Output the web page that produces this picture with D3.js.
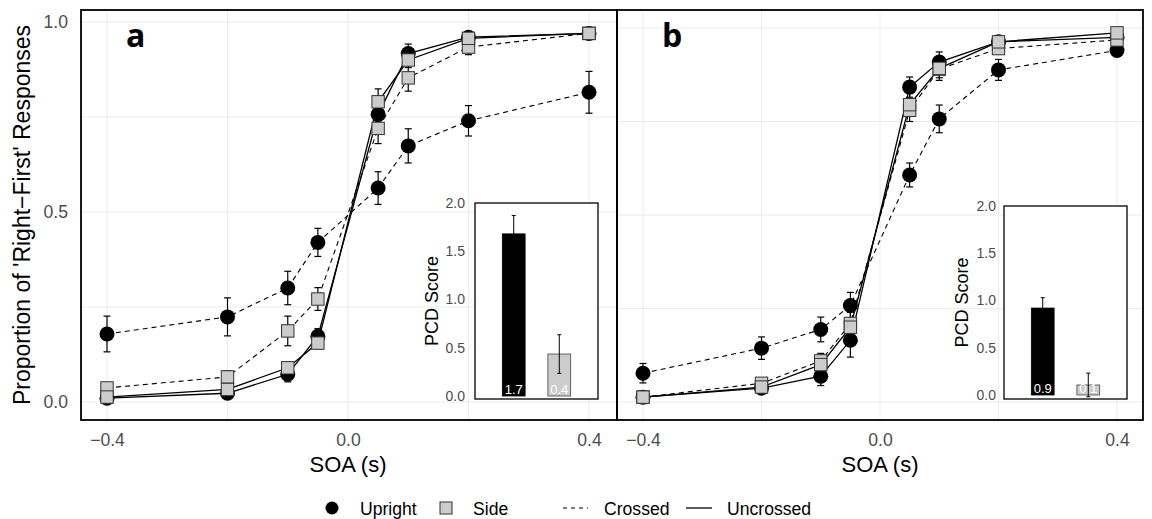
<!DOCTYPE html>
<html><head><meta charset="utf-8">
<script src="https://cdn.jsdelivr.net/npm/d3@7"></script>
<style>
body{margin:0;background:#fff;}
svg{font-family:"Liberation Sans",Arial,sans-serif;}
</style></head>
<body>
<svg id="chart" width="1152" height="519"></svg>
<script>
// ---------- data ----------
const soa = [-0.4, -0.2, -0.1, -0.05, 0.05, 0.1, 0.2, 0.4];
const xTickValues = [-0.4, 0, 0.4];
const xGridValues = [-0.4, -0.2, 0, 0.2, 0.4];
const yTickValues = [0, 0.5, 1];
const yGridValues = [0, 0.25, 0.5, 0.75, 1];

// panel a
const aUprightCrossed     = [0.179, 0.224, 0.300, 0.420, 0.563, 0.674, 0.740, 0.815];
const aUprightCrossedErr  = [0.047, 0.050, 0.044, 0.037, 0.043, 0.045, 0.040, 0.055];
const aUprightUncrossed   = [0.010, 0.023, 0.073, 0.173, 0.757, 0.917, 0.960, 0.970];
const aUprightUncrossedErr= [0.008, 0.010, 0.020, 0.020, 0.020, 0.025, 0.010, 0.008];
const aSideCrossed        = [0.037, 0.066, 0.187, 0.271, 0.720, 0.853, 0.934, 0.970];
const aSideCrossedErr     = [0.010, 0.016, 0.039, 0.030, 0.040, 0.035, 0.020, 0.010];
const aSideUncrossed      = [0.013, 0.033, 0.090, 0.155, 0.790, 0.900, 0.957, 0.970];
const aSideUncrossedErr   = [0.008, 0.010, 0.015, 0.015, 0.034, 0.020, 0.010, 0.008];

// panel b
const bUprightCrossed     = [0.077, 0.144, 0.194, 0.258, 0.607, 0.757, 0.888, 0.940];
const bUprightCrossedErr  = [0.026, 0.030, 0.033, 0.035, 0.032, 0.037, 0.028, 0.015];
const bUprightUncrossed   = [0.013, 0.037, 0.069, 0.165, 0.842, 0.909, 0.963, 0.975];
const bUprightUncrossedErr= [0.008, 0.010, 0.025, 0.045, 0.027, 0.027, 0.010, 0.010];
const bSideCrossed        = [0.013, 0.050, 0.110, 0.210, 0.780, 0.890, 0.945, 0.968];
const bSideCrossedErr     = [0.008, 0.012, 0.020, 0.030, 0.030, 0.030, 0.012, 0.010];
const bSideUncrossed      = [0.013, 0.040, 0.100, 0.200, 0.795, 0.892, 0.963, 0.987];
const bSideUncrossedErr   = [0.008, 0.012, 0.020, 0.025, 0.030, 0.025, 0.012, 0.010];

// insets (PCD scores)
const pcdCategories = ["Upright", "Side"];
const aPCD = [1.68, 0.435];
const aPCDErr = [0.19, 0.20];
const aPCDLabels = ["1.7", "0.4"];
const bPCD = [0.92, 0.106];
const bPCDErr = [0.11, 0.125];
const bPCDLabels = ["0.9", "0.1"];
const pcdTicks = [0, 0.5, 1, 1.5, 2];

const legendShapes = ["Upright", "Side"];
const legendLines = ["Crossed", "Uncrossed"];

// ---------- drawing ----------
const svg = d3.select("#chart");
const fmt = d3.format(".1f");
const GREY_TXT = "#4d4d4d";
const SIDE_FILL = "#cccccc";

const panels = [
  {label:"a", rect:[81, 10, 617, 420], xr:[107, 589], yr:[402, 22],
   series:[
     {v:aUprightCrossed, e:aUprightCrossedErr, shape:"circle", dash:true},
     {v:aUprightUncrossed, e:aUprightUncrossedErr, shape:"circle", dash:false},
     {v:aSideCrossed, e:aSideCrossedErr, shape:"square", dash:true},
     {v:aSideUncrossed, e:aSideUncrossedErr, shape:"square", dash:false}],
   inset:{box:[475, 203, 598, 399], yr:[396, 203], vals:aPCD, err:aPCDErr, labels:aPCDLabels, titleX:432, pad:10},
   yaxis:true, labelX:126},
  {label:"b", rect:[617, 10, 1143, 420], xr:[643, 1117], yr:[402, 28],
   series:[
     {v:bUprightCrossed, e:bUprightCrossedErr, shape:"circle", dash:true},
     {v:bUprightUncrossed, e:bUprightUncrossedErr, shape:"circle", dash:false},
     {v:bSideCrossed, e:bSideCrossedErr, shape:"square", dash:true},
     {v:bSideUncrossed, e:bSideUncrossedErr, shape:"square", dash:false}],
   inset:{box:[1004, 206, 1127, 399], yr:[395, 206], vals:bPCD, err:bPCDErr, labels:bPCDLabels, titleX:962, pad:8},
   yaxis:false, labelX:662}
];

panels.forEach(p => {
  const [x0, y0, x1, y1] = p.rect;
  const x = d3.scaleLinear().domain([-0.4, 0.4]).range(p.xr);
  const y = d3.scaleLinear().domain([0, 1]).range(p.yr);
  const g = svg.append("g");

  // grid
  g.selectAll(".vg").data(xGridValues).join("line")
    .attr("x1", d => x(d)).attr("x2", d => x(d)).attr("y1", y0).attr("y2", y1)
    .attr("stroke", "#ebebeb").attr("stroke-width", 1);
  g.selectAll(".hg").data(yGridValues).join("line")
    .attr("x1", x0).attr("x2", x1).attr("y1", d => y(d)).attr("y2", d => y(d))
    .attr("stroke", "#ebebeb").attr("stroke-width", 1);

  // axes
  const xa = svg.append("g").attr("transform", `translate(0,${y1})`)
    .call(d3.axisBottom(x).tickValues(xTickValues).tickFormat(fmt).tickSize(0).tickPadding(13.5));
  xa.select(".domain").remove();
  xa.selectAll("text").attr("font-size", 17.6).attr("fill", GREY_TXT).attr("font-family", "Liberation Sans, Arial, sans-serif");
  if (p.yaxis) {
    const ya = svg.append("g").attr("transform", `translate(${x0},0)`)
      .call(d3.axisLeft(y).tickValues(yTickValues).tickFormat(fmt).tickSize(0).tickPadding(13));
    ya.select(".domain").remove();
    ya.selectAll("text").attr("font-size", 17.6).attr("fill", GREY_TXT).attr("font-family", "Liberation Sans, Arial, sans-serif");
  }
  svg.append("text").attr("x", (p.xr[0] + p.xr[1]) / 2).attr("y", 472)
    .attr("text-anchor", "middle").attr("font-size", 22).attr("fill", "#000").text("SOA (s)");

  const line = d3.line().x((d, i) => x(soa[i])).y(d => y(d));
  // lines
  p.series.forEach(s => {
    g.append("path").datum(s.v).attr("d", line).attr("fill", "none")
      .attr("stroke", "#000").attr("stroke-width", s.dash ? 1.1 : 1.3)
      .attr("stroke-dasharray", s.dash ? "5,4" : null);
  });
  // error bars
  p.series.forEach(s => {
    const eb = g.append("g").attr("stroke", "#000").attr("stroke-width", 1.2);
    s.v.forEach((v, i) => {
      const cx = x(soa[i]), lo = y(v - s.e[i]), hi = y(v + s.e[i]);
      eb.append("line").attr("x1", cx).attr("x2", cx).attr("y1", lo).attr("y2", hi);
      eb.append("line").attr("x1", cx - 3.5).attr("x2", cx + 3.5).attr("y1", lo).attr("y2", lo);
      eb.append("line").attr("x1", cx - 3.5).attr("x2", cx + 3.5).attr("y1", hi).attr("y2", hi);
    });
  });
  // points
  p.series.filter(s => s.shape === "circle").forEach(s => {
    g.selectAll(null).data(s.v).join("circle")
      .attr("cx", (d, i) => x(soa[i])).attr("cy", d => y(d)).attr("r", 7.5).attr("fill", "#000");
  });
  p.series.filter(s => s.shape === "square").forEach(s => {
    g.selectAll(null).data(s.v).join("rect")
      .attr("x", (d, i) => x(soa[i]) - 6.2).attr("y", d => y(d) - 6.2)
      .attr("width", 12.4).attr("height", 12.4)
      .attr("fill", SIDE_FILL).attr("stroke", "#333").attr("stroke-width", 1);
  });

  // panel label
  svg.append("text").attr("x", p.labelX).attr("y", 47)
    .attr("font-family", "Open Sans, sans-serif").attr("font-weight", 700).attr("font-size", 32)
    .attr("fill", "#000").text(p.label);

  // inset
  const ins = p.inset;
  const [bx0, by0, bx1, by1] = ins.box;
  const ig = svg.append("g");
  ig.append("rect").attr("x", bx0).attr("y", by0).attr("width", bx1 - bx0).attr("height", by1 - by0)
    .attr("fill", "#fff");
  const bx = d3.scaleBand().domain(pcdCategories).range([bx0, bx1]).paddingInner(0.5).paddingOuter(0.6);
  const by = d3.scaleLinear().domain([0, 2]).range(ins.yr);
  ig.selectAll(".bar").data(ins.vals).join("rect")
    .attr("x", (d, i) => bx(pcdCategories[i])).attr("width", bx.bandwidth())
    .attr("y", d => by(d)).attr("height", d => by(0) - by(d))
    .attr("fill", (d, i) => i === 0 ? "#000" : SIDE_FILL)
    .attr("stroke", (d, i) => i === 0 ? "#000" : "#444").attr("stroke-width", 0.8);
  ig.selectAll(".blab").data(ins.labels).join("text")
    .attr("x", (d, i) => bx(pcdCategories[i]) + bx.bandwidth() / 2).attr("y", by(0) - 2)
    .attr("text-anchor", "middle").attr("font-size", 13).attr("fill", "#fff").text(d => d);
  ins.vals.forEach((v, i) => {
    const cx = bx(pcdCategories[i]) + bx.bandwidth() / 2;
    const lo = by(v - ins.err[i]), hi = by(v + ins.err[i]);
    const e = ig.append("g").attr("stroke", "#000").attr("stroke-width", 1);
    e.append("line").attr("x1", cx).attr("x2", cx).attr("y1", lo).attr("y2", hi);
    e.append("line").attr("x1", cx - 2).attr("x2", cx + 2).attr("y1", lo).attr("y2", lo);
    e.append("line").attr("x1", cx - 2).attr("x2", cx + 2).attr("y1", hi).attr("y2", hi);
  });
  ig.append("rect").attr("x", bx0).attr("y", by0).attr("width", bx1 - bx0).attr("height", by1 - by0)
    .attr("fill", "none").attr("stroke", "#000").attr("stroke-width", 1.3);
  const ia = ig.append("g").attr("transform", `translate(${bx0},0)`)
    .call(d3.axisLeft(by).tickValues(pcdTicks).tickFormat(fmt).tickSize(0).tickPadding(ins.pad));
  ia.select(".domain").remove();
  ia.selectAll("text").attr("font-size", 14).attr("fill", GREY_TXT).attr("font-family", "Liberation Sans, Arial, sans-serif");
  ig.append("text").attr("transform", `translate(${ins.titleX + 6},${(by0 + by1) / 2}) rotate(-90)`)
    .attr("text-anchor", "middle").attr("font-size", 18).attr("fill", "#000").text("PCD Score");

  // panel border
  svg.append("rect").attr("x", x0).attr("y", y0).attr("width", x1 - x0).attr("height", y1 - y0)
    .attr("fill", "none").attr("stroke", "#000").attr("stroke-width", 1.8);
});

// y title
svg.append("text").attr("transform", "translate(29.5,215) rotate(-90)")
  .attr("text-anchor", "middle").attr("font-size", 23).attr("fill", "#000")
  .text("Proportion of 'Right\u2212First' Responses");

// legend
const lg = svg.append("g");
const ly = 508;
lg.append("circle").attr("cx", 332).attr("cy", ly).attr("r", 6.5).attr("fill", "#000");
lg.append("text").attr("x", 360).attr("y", 515).attr("font-size", 17.6).text(legendShapes[0]);
lg.append("rect").attr("x", 440).attr("y", ly - 6).attr("width", 12).attr("height", 12)
  .attr("fill", SIDE_FILL).attr("stroke", "#333").attr("stroke-width", 1);
lg.append("text").attr("x", 473).attr("y", 515).attr("font-size", 17.6).text(legendShapes[1]);
lg.append("line").attr("x1", 563).attr("x2", 588).attr("y1", ly).attr("y2", ly)
  .attr("stroke", "#000").attr("stroke-width", 1.1).attr("stroke-dasharray", "4,4");
lg.append("text").attr("x", 604).attr("y", 515).attr("font-size", 17.6).text(legendLines[0]);
lg.append("line").attr("x1", 686).attr("x2", 712).attr("y1", ly).attr("y2", ly)
  .attr("stroke", "#000").attr("stroke-width", 1.3);
lg.append("text").attr("x", 727).attr("y", 515).attr("font-size", 17.6).text(legendLines[1]);
</script>
</body></html>
